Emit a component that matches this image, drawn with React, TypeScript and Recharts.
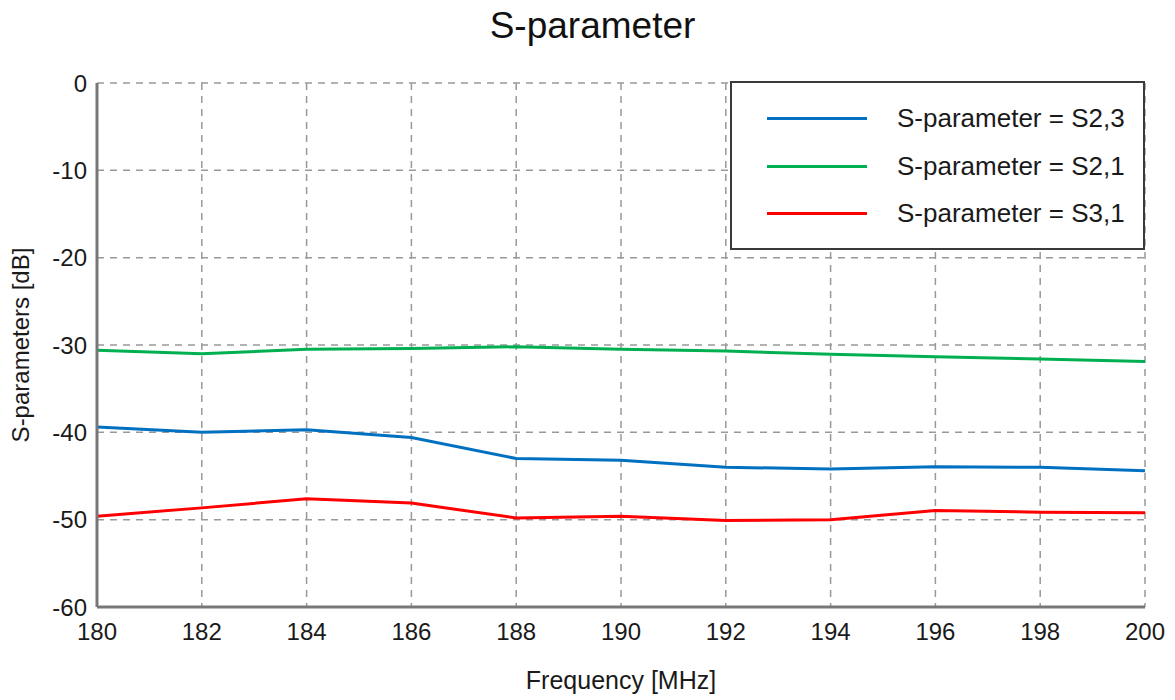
import {
  LineChart,
  Line,
  XAxis,
  YAxis,
  CartesianGrid,
  Legend,
  Label,
} from "recharts";

const freqs = [180, 182, 184, 186, 188, 190, 192, 194, 196, 198, 200];
const s23 = [-39.4, -40.0, -39.7, -40.6, -43.0, -43.2, -44.0, -44.2, -43.95, -44.0, -44.4];
const s21 = [-30.6, -31.0, -30.5, -30.4, -30.2, -30.5, -30.7, -31.05, -31.35, -31.6, -31.9];
const s31 = [-49.6, -48.65, -47.6, -48.1, -49.8, -49.6, -50.1, -50.0, -48.95, -49.15, -49.2];

const xTicks = [180, 182, 184, 186, 188, 190, 192, 194, 196, 198, 200];
const yTicks = [-60, -50, -40, -30, -20, -10, 0];

const seriesList = [
  { key: "s23", name: "S-parameter = S2,3", color: "#0070c0" },
  { key: "s21", name: "S-parameter = S2,1", color: "#00b050" },
  { key: "s31", name: "S-parameter = S3,1", color: "#ff0000" },
];

const data = freqs.map((f, i) => ({ f, s23: s23[i], s21: s21[i], s31: s31[i] }));

const FONT = "'Liberation Sans', Arial, sans-serif";
const tickStyle = { fill: "#1a1a1a", fontSize: 24, fontFamily: FONT };

function LegendBox() {
  return (
    <div
      style={{
        width: 415,
        height: 169,
        border: "2px solid #3a3a3a",
        background: "#fff",
        fontFamily: FONT,
        fontSize: 26,
        color: "#1a1a1a",
        boxSizing: "border-box",
        paddingTop: 12,
      }}
    >
      {seriesList.map((s) => (
        <div key={s.key} style={{ display: "flex", alignItems: "center", height: 47.5 }}>
          <div style={{ marginLeft: 35, width: 100, height: 3, background: s.color }} />
          <span style={{ marginLeft: 30 }}>{s.name}</span>
        </div>
      ))}
    </div>
  );
}

export default function App() {
  return (
    <div style={{ position: "absolute", left: 0, top: 0, width: 1175, height: 700, background: "#fff" }}>
      <div
        style={{
          position: "absolute",
          left: 0,
          top: 5,
          width: 1185,
          textAlign: "center",
          fontFamily: FONT,
          fontSize: 37,
          color: "#111",
        }}
      >
        S-parameter
      </div>
      <LineChart
        width={1175}
        height={700}
        data={data}
        margin={{ top: 83, right: 30, bottom: 0, left: 0 }}
      >
        <CartesianGrid stroke="#999" strokeWidth={1.5} strokeDasharray="7 6" />
        <XAxis
          dataKey="f"
          type="number"
          domain={[180, 200]}
          ticks={xTicks}
          height={93}
          tick={tickStyle}
          tickLine={false}
          tickMargin={10}
          axisLine={{ stroke: "#777", strokeWidth: 3 }}
        >
          <Label value="Frequency [MHz]" position="insideBottom" offset={11} style={{ ...tickStyle, fontSize: 25 }} />
        </XAxis>
        <YAxis
          type="number"
          domain={[-60, 0]}
          ticks={yTicks}
          width={97}
          tick={tickStyle}
          tickLine={false}
          tickMargin={4}
          axisLine={{ stroke: "#777", strokeWidth: 3 }}
        >
          <Label
            value="S-parameters [dB]"
            angle={-90}
            position="insideLeft"
            offset={20}
            style={{ ...tickStyle, textAnchor: "middle" }}
          />
        </YAxis>
        <XAxis xAxisId="top" orientation="top" type="number" domain={[180, 200]} height={0} tick={false} tickLine={false} axisLine={{ stroke: "#777", strokeWidth: 3 }} />
        <YAxis yAxisId="right" orientation="right" type="number" domain={[-60, 0]} width={0} tick={false} tickLine={false} axisLine={{ stroke: "#777", strokeWidth: 3 }} />
        <Legend
          layout="vertical"
          align="center"
          verticalAlign="middle"
          content={() => <LegendBox />}
          wrapperStyle={{ position: "absolute", left: 730, top: 81, width: 415, height: 169 }}
        />
        {seriesList.map((s) => (
          <Line
            key={s.key}
            dataKey={s.key}
            name={s.name}
            stroke={s.color}
            strokeWidth={3}
            dot={false}
            type="linear"
            isAnimationActive={false}
          />
        ))}
      </LineChart>
    </div>
  );
}
